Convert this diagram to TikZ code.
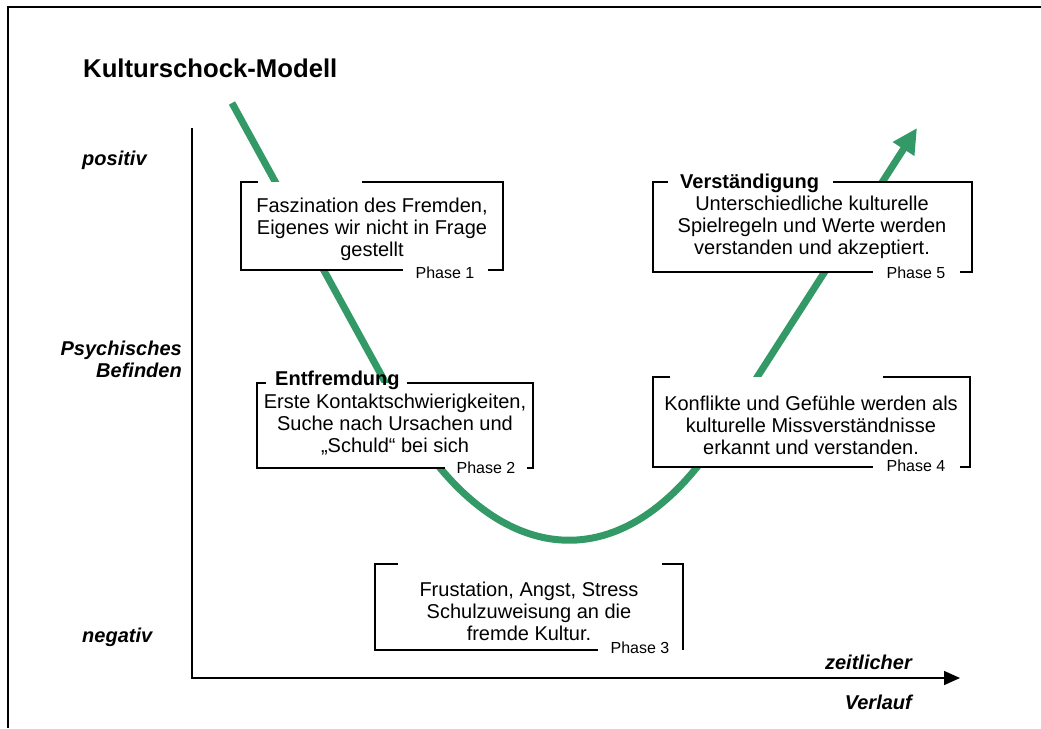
\documentclass[tikz,border=0pt]{standalone}
\usepackage{fontspec}
\setmainfont{Liberation Sans}
\usetikzlibrary{arrows.meta}
\definecolor{kgreen}{RGB}{51,153,102}
\begin{document}
\begin{tikzpicture}[x=1pt,y=-1pt,
  boxline/.style={line width=2pt},
  boxfill/.style={fill=white},
  body/.style={align=center, font=\fontsize{20}{22}\selectfont, inner sep=0pt},
  phase/.style={anchor=base, font=\fontsize{16}{18}\selectfont, inner sep=0pt},
  ttl/.style={anchor=base west, font=\fontsize{20}{22}\selectfont\bfseries, inner sep=0pt},
  axl/.style={font=\fontsize{20}{22}\selectfont\bfseries\itshape, inner sep=0pt},
  curve/.style={kgreen, line width=7pt, line join=round, -{Triangle[length=25pt,width=24pt]}},
  axis/.style={line width=1.5pt, -{Triangle[length=16pt,width=14pt]}}
]
\useasboundingbox (0,0) rectangle (1041,728);
% frame
\draw[line width=2pt] (8,728) -- (8,6.5) -- (1041,6.5);
% title
\node[anchor=base west, inner sep=0pt, font=\fontsize{25.7}{30}\selectfont\bfseries] (title) at (83,77) {Kulturschock-Modell};
% curve
\coordinate (c0) at (232,103);
\coordinate (c1) at (395,400);
\coordinate (c2) at (720,435);
\coordinate (c3) at (917,128);
\draw[curve] (c0) -- (c1) .. controls (486,570) and (621,590) .. (c2) -- (c3);
% axes
\coordinate (ytop) at (192,128);
\coordinate (orig) at (192,678);
\coordinate (xend) at (960,678);
\draw[axis] (ytop) -- (orig) -- (xend);
% axis labels
\node[axl, anchor=base west] (pos) at (82,165) {positiv};
\node[axl, anchor=base east] (psy) at (182,355) {Psychisches};
\node[axl, anchor=base east] (bef) at (182,377) {Befinden};
\node[axl, anchor=base west] (neg) at (82,642) {negativ};
\node[axl, anchor=base east] (zeit) at (912,669) {zeitlicher};
\node[axl, anchor=base east] (verl) at (912,709) {Verlauf};
% Box 1
\fill[boxfill] (241,182) rectangle (503,270);
\draw[boxline] (258,182) -- (241,182) -- (241,270) -- (403,270);
\draw[boxline] (362,182) -- (503,182) -- (503,270) -- (488,270);
\node[body] (t1) at (372,229) {Faszination des Fremden,\\Eigenes wir nicht in Frage\\gestellt};
\node[phase] (p1) at (445,278) {Phase 1};
% Box 5
\fill[boxfill] (653,182) rectangle (972,272);
\draw[boxline] (668,182) -- (653,182) -- (653,272) -- (873,272);
\draw[boxline] (833,182) -- (972,182) -- (972,272) -- (960,272);
\node[ttl] (h5) at (680,188) {Verständigung};
\node[body] (t5) at (812,227) {Unterschiedliche kulturelle\\Spielregeln und Werte werden\\verstanden und akzeptiert.};
\node[phase] (p5) at (916,278) {Phase 5};
% Box 2
\fill[boxfill] (257,383) rectangle (533,468);
\draw[boxline] (266,383) -- (257,383) -- (257,468) -- (445,468);
\draw[boxline] (407,383) -- (533,383) -- (533,468) -- (527,468);
\node[ttl] (h2) at (275,385) {Entfremdung};
\node[body] (t2) at (395,425) {Erste Kontaktschwierigkeiten,\\Suche nach Ursachen und\\„Schuld“ bei sich};
\node[phase] (p2) at (486,473) {Phase 2};
% Box 4
\fill[boxfill] (653,377) rectangle (970,467);
\draw[boxline] (670,377) -- (653,377) -- (653,467) -- (873,467);
\draw[boxline] (883,377) -- (970,377) -- (970,467) -- (960,467);
\node[body] (t4) at (811,425) {Konflikte und Gefühle werden als\\kulturelle Missverständnisse\\erkannt und verstanden.};
\node[phase] (p4) at (916,471) {Phase 4};
% Box 3
\fill[boxfill] (375,564) rectangle (683,650);
\draw[boxline] (398,564) -- (375,564) -- (375,650) -- (598,650);
\draw[boxline] (662,564) -- (683,564) -- (683,650);
\node[body] (t3) at (529,611) {Frustation, Angst, Stress\\Schulzuweisung an die\\fremde Kultur.};
\node[phase] (p3) at (640,653) {Phase 3};
\end{tikzpicture}
\end{document}
